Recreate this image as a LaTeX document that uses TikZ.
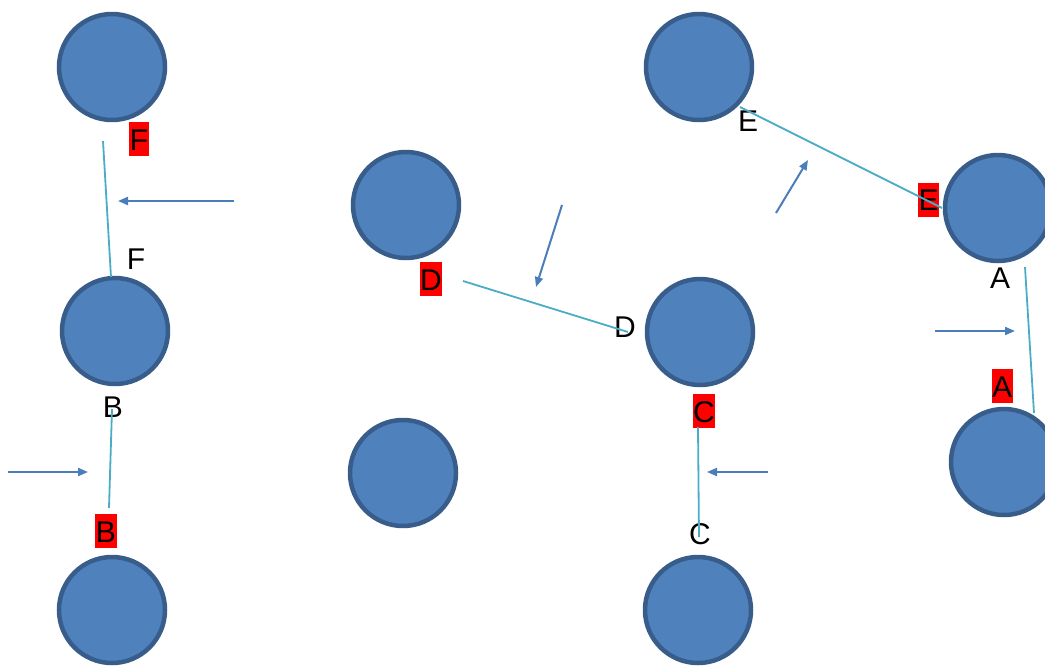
\documentclass[tikz,border=0pt]{standalone}
\usepackage{fontspec}
\setmainfont{Liberation Sans}
\usetikzlibrary{arrows.meta}
\definecolor{ballfill}{HTML}{4F81BD}
\definecolor{ballline}{HTML}{385D8A}
\definecolor{linkcol}{HTML}{4BACC6}
\definecolor{arrcol}{HTML}{4A7EBB}
\tikzset{
  ball/.style={circle, fill=ballfill, draw=ballline, line width=4.5pt, minimum size=106pt, inner sep=0pt},
  redlab/.style={fill=red, text=black, font=\fontsize{30}{30}\selectfont, text height=22pt, text depth=0pt, inner xsep=0.5pt, inner ysep=6pt},
  blklab/.style={text=black, font=\fontsize{30}{30}\selectfont, text height=22pt, text depth=0pt, inner sep=0pt},
  link/.style={draw=linkcol, line width=1.8pt},
  flow/.style={draw=arrcol, line width=2pt, -{Triangle[length=10pt, width=8pt]}}
}
\begin{document}
\begin{tikzpicture}[x=1pt, y=-1pt]
\useasboundingbox (0,0) rectangle (1045,665);
\clip (0,0) rectangle (1045,665);
% balls
\node[ball] (b1) at (112,67) {};
\node[ball] (b2) at (115,331) {};
\node[ball] (b3) at (112,610) {};
\node[ball] (b4) at (406,205) {};
\node[ball] (b5) at (403,473) {};
\node[ball] (b6) at (699,67) {};
\node[ball] (b7) at (700,332) {};
\node[ball] (b8) at (698,610) {};
\node[ball] (b9) at (998,208) {};
\node[ball] (b10) at (1004,462) {};
% labels
\node[redlab] (rF) at (139,139) {F};
\node[blklab] (kF) at (136,258) {F};
\node[blklab] (kB) at (113,406) {B};
\node[redlab] (rB) at (106,531) {B};
\node[redlab] (rD) at (431,279) {D};
\node[blklab] (kD) at (625,326) {D};
\node[blklab] (kE) at (748,120) {E};
\node[redlab] (rE) at (928.5,199.5) {E};
\node[blklab] (kA) at (1000,277) {A};
\node[redlab] (rA) at (1002,386) {A};
\node[redlab] (rC) at (704,411) {C};
\node[blklab] (kC) at (700,533) {C};
% connector end points
\coordinate (f1) at (103,141); \coordinate (f2) at (111,277);
\coordinate (bb1) at (112,409); \coordinate (bb2) at (109,508);
\coordinate (d1) at (463,281); \coordinate (d2) at (628,332);
\coordinate (e1) at (740,107); \coordinate (e2) at (942,208);
\coordinate (a1) at (1025,267); \coordinate (a2) at (1034,413);
\coordinate (c1) at (698,427); \coordinate (c2) at (699,537);
\draw[link] (f1) -- (f2);
\draw[link] (bb1) -- (bb2);
\draw[link] (d1) -- (d2);
\draw[link] (e1) -- (e2);
\draw[link] (a1) -- (a2);
\draw[link] (c1) -- (c2);
% flow arrows
\coordinate (p1s) at (234,201); \coordinate (p1e) at (118,201);
\coordinate (p2s) at (8,472); \coordinate (p2e) at (88,472);
\coordinate (p3s) at (562,205); \coordinate (p3e) at (536,287);
\coordinate (p4s) at (776,213); \coordinate (p4e) at (808,160);
\coordinate (p5s) at (935,331); \coordinate (p5e) at (1015,331);
\coordinate (p6s) at (768,472); \coordinate (p6e) at (707,472);
\draw[flow] (p1s) -- (p1e);
\draw[flow] (p2s) -- (p2e);
\draw[flow] (p3s) -- (p3e);
\draw[flow] (p4s) -- (p4e);
\draw[flow] (p5s) -- (p5e);
\draw[flow] (p6s) -- (p6e);
\end{tikzpicture}
\end{document}
